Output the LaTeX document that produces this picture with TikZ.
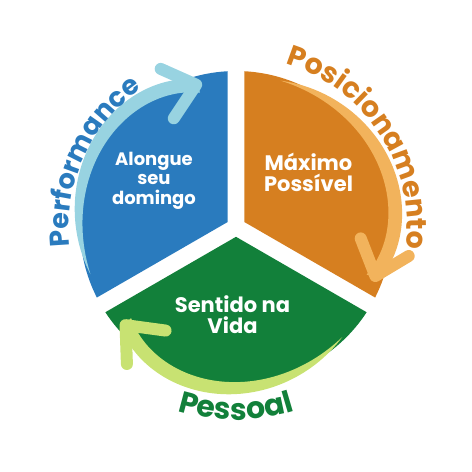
\documentclass[tikz,border=0pt]{standalone}
\usepackage{fontspec}
\setmainfont{Poppins}
\usetikzlibrary{decorations.text}

\definecolor{secblue}{HTML}{2A7BBE}
\definecolor{secorange}{HTML}{D67F20}
\definecolor{secgreen}{HTML}{12803A}
\definecolor{bandblue}{HTML}{98D3E1}
\definecolor{bandorange}{HTML}{F2B35C}
\definecolor{bandgreen}{HTML}{C8E272}

\begin{document}
\begin{tikzpicture}[x=1pt, y=1pt,
    declare function={bandr(\t)=153+20*\t-27*\t^4; bandw(\t)=14*(1-(1-\t)^3);},
    inlabel/.style={text=white, align=center, font=\bfseries},
    arrowhead/.style={line width=12pt, line cap=round, line join=round},
    outlabel/.style n args={3}{decorate, decoration={text along path, text align=center,
        text color=#1, text={|\fontsize{#2}{#2}\selectfont\bfseries|#3}}}]

    \useasboundingbox (-236,-245) rectangle (236,227);

    % Sectors
    \foreach \col/\a in {secblue/150, secorange/30, secgreen/270} {
        \fill[\col] (\a:9.8) -- ({\a-56.88}:156)
            arc[start angle={\a-56.88}, end angle={\a+56.88}, radius=156] -- cycle;
    }

    % Curved arrows
    \foreach \col/\rot in {bandblue/0, bandorange/-125, bandgreen/116} {
        \begin{scope}[rotate=\rot]
            \fill[\col] plot[domain=0:1, samples=60] ({198-93*\x}:{bandr(\x)+bandw(\x)/2})
                -- plot[domain=1:0, samples=60] ({198-93*\x}:{bandr(\x)-bandw(\x)/2}) -- cycle;
            \draw[\col, arrowhead] (-75.3,158.1) -- (-39.8,142.3) -- (-62.2,108.7);
        \end{scope}
    }

    % Labels round the circle
    \path[outlabel={secblue}{27}{Performance}] (215.5:167) arc[start angle=215.5, end angle=95.5, radius=167];
    \path[outlabel={secorange}{28.5}{Posicionamento}] (93:171) arc[start angle=93, end angle=-27, radius=171];
    \path[outlabel={secgreen}{30}{Pessoal}] (220:193) arc[start angle=220, end angle=320, radius=193];

    % Labels in the sectors
    \node[inlabel, font=\fontsize{18}{19.6}\selectfont\bfseries] (alongue) at (-82,46.5) {Alongue\\seu\\domingo};
    \node[inlabel, font=\fontsize{21}{21.7}\selectfont\bfseries] (maximo) at (72.5,54.5) {Máximo\\Possível};
    \node[inlabel, font=\fontsize{21}{21.7}\selectfont\bfseries] (sentido) at (-3.5,-87.7) {Sentido na\\Vida};
\end{tikzpicture}
\end{document}
